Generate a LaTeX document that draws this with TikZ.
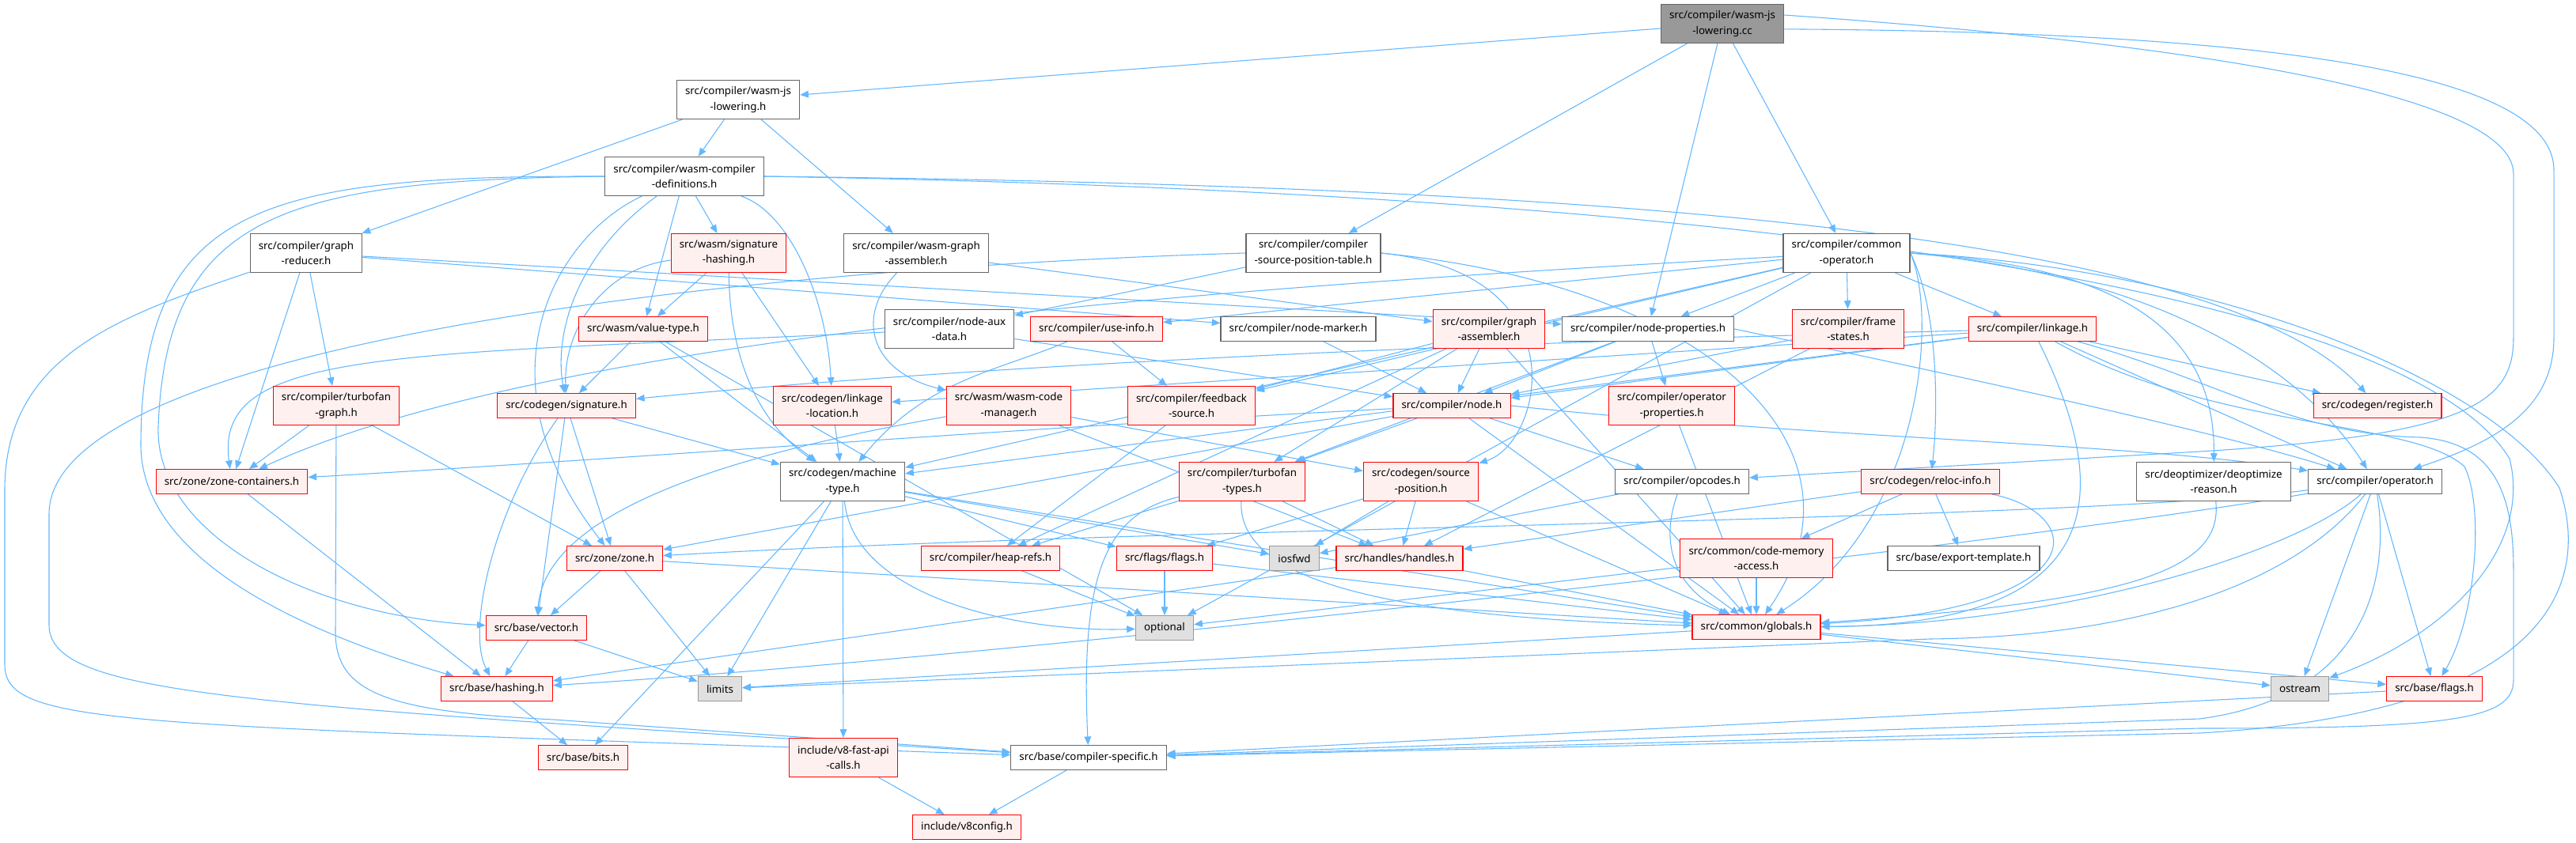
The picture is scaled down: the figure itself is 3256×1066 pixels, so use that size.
\documentclass[tikz,border=0pt]{standalone}
\usepackage{fontspec}
\setmainfont{Noto Sans}
\usepackage{tikz}
\usetikzlibrary{arrows.meta, backgrounds}
\definecolor{edgeblue}{HTML}{63B8FF}
\definecolor{hdrred}{HTML}{FF0000}
\definecolor{hdrfill}{HTML}{FFF0F0}
\definecolor{sysfill}{HTML}{E0E0E0}
\definecolor{sysline}{HTML}{999999}
\definecolor{plainline}{HTML}{666666}
\definecolor{rootfill}{HTML}{999999}
\tikzstyle{inc}=[-{Triangle[length=8pt,width=6.5pt]},line width=0.8pt,color=edgeblue]
\tikzstyle{plainbox}=[draw=plainline,fill=white,line width=0.9pt,inner xsep=8pt,inner ysep=2pt,
  minimum height=23pt,align=center,font=\fontsize{10}{14.5}\selectfont]
\tikzstyle{hdrbox}=[plainbox,draw=hdrred,fill=hdrfill]
\tikzstyle{sysbox}=[plainbox,draw=sysline,fill=sysfill]
\tikzstyle{rootbox}=[plainbox,fill=rootfill]
\tikzstyle{twoline}=[minimum height=36.75pt]

\begin{document}
\begin{tikzpicture}[x=0.75pt,y=0.75pt]
  \useasboundingbox (0,0) rectangle (3256,-1066);
  \node[rootbox,twoline] (cc) at (2177,-30) {src/compiler/wasm-js\\-lowering.cc};
  \node[plainbox,twoline] (jsh) at (933,-126) {src/compiler/wasm-js\\-lowering.h};
  \node[plainbox,twoline] (wcd) at (865,-223) {src/compiler/wasm-compiler\\-definitions.h};
  \node[plainbox,twoline] (grd) at (387,-320) {src/compiler/graph\\-reducer.h};
  \node[hdrbox,twoline] (sgh) at (921,-320) {src/wasm/signature\\-hashing.h};
  \node[plainbox,twoline] (wga) at (1158,-320) {src/compiler/wasm-graph\\-assembler.h};
  \node[plainbox,twoline] (spt) at (1660,-320) {src/compiler/compiler\\-source-position-table.h};
  \node[plainbox,twoline] (cop) at (2334,-320) {src/compiler/common\\-operator.h};
  \node[hdrbox] (vty) at (813,-416) {src/wasm/value-type.h};
  \node[plainbox,twoline] (nad) at (1200,-416) {src/compiler/node-aux\\-data.h};
  \node[hdrbox] (uin) at (1386,-416) {src/compiler/use-info.h};
  \node[plainbox] (nmk) at (1641,-416) {src/compiler/node-marker.h};
  \node[hdrbox,twoline] (gas) at (1882,-416) {src/compiler/graph\\-assembler.h};
  \node[plainbox] (npr) at (2083,-416) {src/compiler/node-properties.h};
  \node[hdrbox,twoline] (fst) at (2336,-416) {src/compiler/frame\\-states.h};
  \node[hdrbox] (lnk) at (2569,-416) {src/compiler/linkage.h};
  \node[hdrbox,twoline] (tfg) at (425,-513) {src/compiler/turbofan\\-graph.h};
  \node[hdrbox] (sig) at (716,-513) {src/codegen/signature.h};
  \node[hdrbox,twoline] (llc) at (1052,-513) {src/codegen/linkage\\-location.h};
  \node[hdrbox,twoline] (wcm) at (1275,-513) {src/wasm/wasm-code\\-manager.h};
  \node[hdrbox,twoline] (fbs) at (1506,-513) {src/compiler/feedback\\-source.h};
  \node[hdrbox] (nod) at (1835,-513) {src/compiler/node.h};
  \node[hdrbox,twoline] (opp) at (2113,-513) {src/compiler/operator\\-properties.h};
  \node[hdrbox] (reg) at (3005,-513) {src/codegen/register.h};
  \node[hdrbox] (zcn) at (293,-609) {src/zone/zone-containers.h};
  \node[plainbox,twoline] (mty) at (1065,-609) {src/codegen/machine\\-type.h};
  \node[hdrbox,twoline] (tft) at (1570,-609) {src/compiler/turbofan\\-types.h};
  \node[hdrbox,twoline] (spo) at (1796,-609) {src/codegen/source\\-position.h};
  \node[plainbox] (opc) at (2126,-609) {src/compiler/opcodes.h};
  \node[hdrbox] (rlc) at (2440,-609) {src/codegen/reloc-info.h};
  \node[plainbox,twoline] (dre) at (2798,-609) {src/deoptimizer/deoptimize\\-reason.h};
  \node[plainbox] (opr) at (3002,-609) {src/compiler/operator.h};
  \node[hdrbox] (zon) at (777,-706) {src/zone/zone.h};
  \node[hdrbox] (hrf) at (1252,-706) {src/compiler/heap-refs.h};
  \node[hdrbox] (ffl) at (1472,-706) {src/flags/flags.h};
  \node[sysbox] (ios) at (1636,-706) {iosfwd};
  \node[hdrbox] (hnd) at (1769,-706) {src/handles/handles.h};
  \node[hdrbox,twoline] (cma) at (2220,-706) {src/common/code-memory\\-access.h};
  \node[plainbox] (ext) at (2482,-706) {src/base/export-template.h};
  \node[hdrbox] (vec) at (678,-794) {src/base/vector.h};
  \node[sysbox] (opt) at (1472,-794) {optional};
  \node[hdrbox] (glb) at (2220,-793) {src/common/globals.h};
  \node[hdrbox] (hsh) at (628,-871) {src/base/hashing.h};
  \node[sysbox] (lim) at (910,-871) {limits};
  \node[sysbox] (ost) at (2907,-871) {ostream};
  \node[hdrbox] (bfl) at (3077,-871) {src/base/flags.h};
  \node[hdrbox] (bit) at (737,-958) {src/base/bits.h};
  \node[hdrbox,twoline] (fac) at (1066,-958) {include/v8-fast-api\\-calls.h};
  \node[plainbox] (csp) at (1376,-958) {src/base/compiler-specific.h};
  \node[hdrbox] (v8c) at (1222,-1046) {include/v8config.h};

  \begin{scope}[on background layer]
  \fill[white] (0,0) rectangle (3256,-1066);
  \draw[inc] (cc) -- (jsh);
  \draw[inc] (cc) -- (spt);
  \draw[inc] (cc) -- (npr);
  \draw[inc] (cc) -- (cop);
  \draw[inc] (cc.8) .. controls (2700,-50) and (3177,-110) .. (3177,-220) -- (3177,-427)
    .. controls (3177,-510) and (3120,-550) .. (2780,-571) -- (opc);
  \draw[inc] (cc.-5) .. controls (2800,-40) and (3228,-80) .. (3228,-215) -- (3228,-427)
    .. controls (3228,-520) and (3150,-560) .. (opr);
  \draw[inc] (jsh) -- (grd);
  \draw[inc] (jsh) -- (wcd);
  \draw[inc] (jsh) -- (wga);
  \draw[inc] (wcd.west) .. controls (330,-222) and (180,-260) .. (178,-560)
    .. controls (176,-720) and (420,-810) .. (hsh);
  \draw[inc] (wcd.west) .. controls (360,-228) and (210,-270) .. (200,-540)
    .. controls (196,-680) and (400,-780) .. (vec);
  \draw[inc] (wcd) .. controls (700,-300) and (600,-480) .. (zon);
  \draw[inc] (wcd) .. controls (730,-320) and (700,-420) .. (sig);
  \draw[inc] (wcd) -- (vty);
  \draw[inc] (wcd) -- (sgh);
  \draw[inc] (wcd) .. controls (1000,-270) and (1045,-380) .. (llc);
  \draw[inc] (wcd.east) .. controls (2000,-235) and (2800,-290) .. (reg);
  \draw[inc] (wcd.east) .. controls (2300,-245) and (3050,-380) .. (3172,-580)
    .. controls (3200,-690) and (3100,-800) .. (ost);
  \draw[inc] (grd) .. controls (150,-400) and (6,-450) .. (6,-620) -- (6,-840)
    .. controls (6,-920) and (150,-915) .. (csp);
  \draw[inc] (grd) -- (zcn);
  \draw[inc] (grd) -- (tfg);
  \draw[inc] (grd) -- (nmk);
  \draw[inc] (grd) -- (npr);
  \draw[inc] (sgh) .. controls (760,-340) and (712,-420) .. (sig);
  \draw[inc] (sgh) -- (vty);
  \draw[inc] (sgh) .. controls (922,-420) and (940,-520) .. (mty);
  \draw[inc] (sgh) -- (llc);
  \draw[inc] (wga) -- (gas);
  \draw[inc] (wga) .. controls (1080,-400) and (1100,-470) .. (wcm);
  \draw[inc] (spt.west) .. controls (900,-340) and (62,-440) .. (62,-650) -- (62,-790)
    .. controls (62,-880) and (300,-890) .. (csp);
  \draw[inc] (spt) -- (nad);
  \draw[inc] (spt.east) .. controls (2000,-345) and (1950,-560) .. (spo);
  \draw[inc] (spt.east) .. controls (2150,-360) and (2380,-560) .. (glb);
  \draw[inc] (cop) -- (uin);
  \draw[inc] (cop) -- (npr);
  \draw[inc] (cop) -- (fbs);
  \draw[inc] (cop) -- (mty);
  \draw[inc] (cop) .. controls (1600,-360) and (700,-420) .. (zcn);
  \draw[inc] (cop) -- (fst);
  \draw[inc] (cop) -- (lnk);
  \draw[inc] (cop.east) .. controls (2450,-390) and (2450,-520) .. (rlc);
  \draw[inc] (cop.east) .. controls (2650,-335) and (2800,-400) .. (dre);
  \draw[inc] (cop.east) .. controls (2700,-345) and (2900,-450) .. (opr);
  \draw[inc] (cop.east) .. controls (2450,-400) and (2430,-660) .. (glb);
  \draw[inc] (cop.east) .. controls (2800,-340) and (3150,-480) .. (3235,-617)
    .. controls (3270,-720) and (3250,-900) .. (2780,-927) -- (csp);
  \draw[inc] (cop) -- (opt);
  \draw[inc] (vty) -- (sig);
  \draw[inc] (vty) -- (mty);
  \draw[inc] (vty) -- (opt);
  \draw[inc] (nad) .. controls (500,-450) and (270,-440) .. (zcn);
  \draw[inc] (nad) -- (nod);
  \draw[inc] (uin) -- (fbs);
  \draw[inc] (uin) .. controls (1260,-470) and (1170,-480) .. (mty);
  \draw[inc] (nmk) -- (nod);
  \draw[inc] (gas) -- (fbs);
  \draw[inc] (gas) -- (hrf);
  \draw[inc] (gas) -- (tft);
  \draw[inc] (gas) -- (nod);
  \draw[inc] (gas) -- (glb);
  \draw[inc] (npr) -- (nod);
  \draw[inc] (npr) -- (opp);
  \draw[inc] (npr) -- (tft);
  \draw[inc] (npr.east) .. controls (2450,-470) and (2800,-545) .. (opr);
  \draw[inc] (fst) -- (nod);
  \draw[inc] (fst) -- (hnd);
  \draw[inc] (lnk) -- (llc);
  \draw[inc] (lnk) .. controls (2000,-430) and (1300,-455) .. (sig);
  \draw[inc] (lnk) -- (reg);
  \draw[inc] (lnk) -- (mty);
  \draw[inc] (lnk) -- (opr);
  \draw[inc] (lnk) -- (nod);
  \draw[inc] (lnk) .. controls (2660,-600) and (2690,-790) .. (glb);
  \draw[inc] (lnk) .. controls (2800,-545) and (3050,-530) .. (3115,-590)
    .. controls (3140,-640) and (3130,-780) .. (bfl);
  \draw[inc] (lnk) .. controls (2800,-480) and (2900,-550) .. (3060,-553)
    .. controls (3150,-560) and (3177,-620) .. (3177,-720) -- (3177,-860)
    .. controls (3177,-910) and (3100,-921) .. (2780,-921) -- (csp);
  \draw[inc] (tfg) -- (zcn);
  \draw[inc] (tfg) -- (zon);
  \draw[inc] (tfg) -- (424,-800) .. controls (424,-880) and (500,-900) .. (700,-910) -- (csp);
  \draw[inc] (sig) -- (mty);
  \draw[inc] (sig) -- (zon);
  \draw[inc] (sig) -- (vec);
  \draw[inc] (sig) .. controls (620,-650) and (590,-800) .. (hsh);
  \draw[inc] (llc) -- (mty);
  \draw[inc] (wcm) .. controls (950,-570) and (690,-640) .. (vec);
  \draw[inc] (wcm) -- (spo);
  \draw[inc] (wcm) -- (hnd);
  \draw[inc] (fbs) -- (hrf);
  \draw[inc] (nod) -- (opc);
  \draw[inc] (nod.east) .. controls (2300,-555) and (2700,-560) .. (opr);
  \draw[inc] (nod) -- (tft);
  \draw[inc] (nod) .. controls (1300,-540) and (800,-580) .. (zcn);
  \draw[inc] (nod) -- (glb);
  \draw[inc] (nod) -- (zon);
  \draw[inc] (opp) -- (glb);
  \draw[inc] (zcn) -- (hsh);
  \draw[inc] (mty) -- (bit);
  \draw[inc] (mty) -- (lim);
  \draw[inc] (mty) -- (fac);
  \draw[inc] (mty) -- (ios);
  \draw[inc] (mty) -- (ffl);
  \draw[inc] (mty) .. controls (1080,-760) and (1300,-800) .. (opt);
  \draw[inc] (mty) -- (glb);
  \draw[inc] (tft) -- (hrf);
  \draw[inc] (tft) -- (hnd);
  \draw[inc] (tft) .. controls (1565,-720) and (1700,-780) .. (glb);
  \draw[inc] (tft) .. controls (1400,-650) and (1365,-720) .. (csp);
  \draw[inc] (spo) -- (ffl);
  \draw[inc] (spo) -- (ios);
  \draw[inc] (spo) -- (hnd);
  \draw[inc] (spo) -- (glb);
  \draw[inc] (opc) -- (ios);
  \draw[inc] (opc) .. controls (2100,-680) and (2110,-740) .. (glb);
  \draw[inc] (rlc) -- (cma);
  \draw[inc] (rlc) -- (ext);
  \draw[inc] (rlc) -- (hnd);
  \draw[inc] (rlc) .. controls (2640,-650) and (2650,-770) .. (glb);
  \draw[inc] (dre) .. controls (2810,-720) and (2700,-760) .. (glb);
  \draw[inc] (opr) .. controls (2600,-680) and (1300,-830) .. (hsh);
  \draw[inc] (opr) .. controls (2600,-660) and (1500,-665) .. (zon);
  \draw[inc] (opr) .. controls (2900,-700) and (2600,-790) .. (glb);
  \draw[inc] (opr) .. controls (2900,-740) and (2700,-805) .. (2440,-808) -- (lim);
  \draw[inc] (opr) -- (ost);
  \draw[inc] (opr) .. controls (3020,-720) and (3000,-880) .. (2780,-909) -- (csp);
  \draw[inc] (opr) -- (bfl);
  \draw[inc] (zon) -- (vec);
  \draw[inc] (zon) -- (lim);
  \draw[inc] (zon) -- (glb);
  \draw[inc] (hrf) -- (opt);
  \draw[inc] (ffl) -- (opt);
  \draw[inc] (ffl) -- (glb);
  \draw[inc] (hnd) -- (glb);
  \draw[inc] (hnd) -- (hsh);
  \draw[inc] (cma) -- (glb);
  \draw[inc] (cma) -- (opt);
  \draw[inc] (vec) -- (hsh);
  \draw[inc] (vec) -- (lim);
  \draw[inc] (hsh) -- (bit);
  \draw[inc] (glb) -- (lim);
  \draw[inc] (glb) -- (ost);
  \draw[inc] (glb) -- (bfl);
  \draw[inc] (bfl) -- (csp);
  \draw[inc] (fac) -- (v8c);
  \draw[inc] (csp) -- (v8c);
  \end{scope}
\end{tikzpicture}
\end{document}
